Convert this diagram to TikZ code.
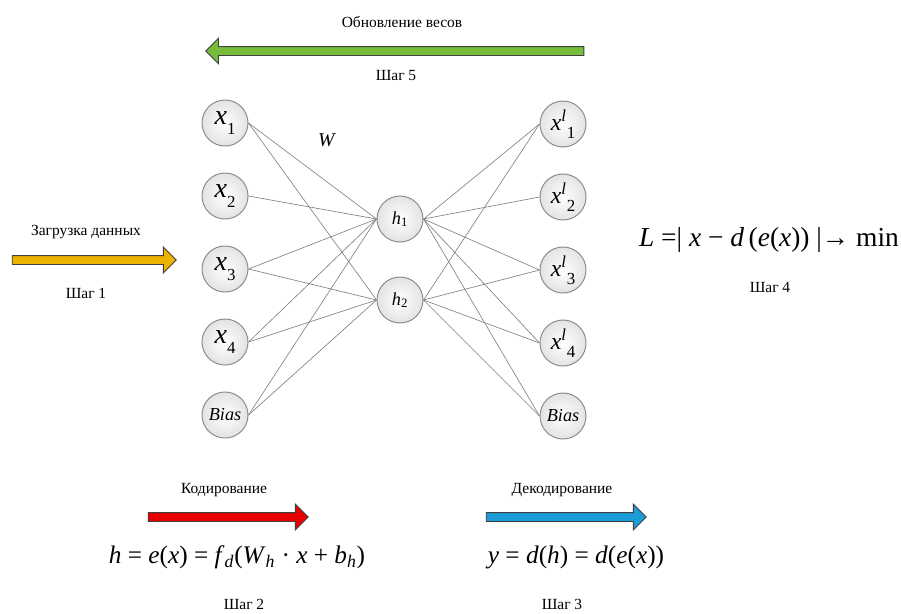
\documentclass[tikz,border=0pt]{standalone}
\usepackage{fontspec}
\setmainfont{Liberation Serif}
\usetikzlibrary{positioning,shapes.arrows}
\definecolor{wiregray}{HTML}{7F7F7F}
\definecolor{ringgray}{HTML}{8C8C8C}
\definecolor{stepgreen}{HTML}{78BC3C}
\definecolor{stepgold}{HTML}{EDB200}
\definecolor{stepred}{HTML}{E80000}
\definecolor{stepblue}{HTML}{1C9DD8}
\newcommand{\vi}[1]{\textit{#1}}
\newcommand{\lowsub}[1]{\raisebox{-0.75ex}{\fontsize{12}{12}\selectfont #1}}

\begin{document}
\begin{tikzpicture}[
  x=0.025cm, y=-0.025cm,
  neuron/.style={circle,draw=ringgray,line width=0.7pt,inner sep=0pt,
                 minimum size=1.15cm,shading=radial,
                 inner color=white,outer color=gray!22},
  wire/.style={draw=wiregray,line width=0.45pt},
  blockarrow/.style={single arrow,draw=black!75,line width=0.6pt,
                     inner xsep=0pt,inner ysep=0.1cm,
                     single arrow head extend=0.21cm,
                     single arrow tip angle=90},
  steptext/.style={font=\fontsize{11}{13}\selectfont},
  formula/.style={font=\fontsize{18}{22}\selectfont,inner sep=0pt}
]
  \useasboundingbox (0,0) rectangle (901,613);

  % input layer
  \node[neuron] (in1) at (225,123) {\fontsize{20}{22}\selectfont\vi{x}\lowsub{1}};
  \node[neuron, below=0.65cm of in1] (in2) {\fontsize{20}{22}\selectfont\vi{x}\lowsub{2}};
  \node[neuron, below=0.65cm of in2] (in3) {\fontsize{20}{22}\selectfont\vi{x}\lowsub{3}};
  \node[neuron, below=0.65cm of in3] (in4) {\fontsize{20}{22}\selectfont\vi{x}\lowsub{4}};
  \node[neuron, below=0.65cm of in4] (inb) {\fontsize{13}{15}\selectfont\vi{Bias}};

  % hidden layer
  \node[neuron] (hid1) at (400,219) {\fontsize{13}{15}\selectfont\vi{h}\textsubscript{1}};
  \node[neuron, below=0.85cm of hid1] (hid2) {\fontsize{13}{15}\selectfont\vi{h}\textsubscript{2}};

  % output layer
  \node[neuron] (out1) at (563,124) {\fontsize{17}{20}\selectfont\vi{x}\textsuperscript{\vi{l}}\lowsub{1}};
  \node[neuron, below=0.65cm of out1] (out2) {\fontsize{17}{20}\selectfont\vi{x}\textsuperscript{\vi{l}}\lowsub{2}};
  \node[neuron, below=0.65cm of out2] (out3) {\fontsize{17}{20}\selectfont\vi{x}\textsuperscript{\vi{l}}\lowsub{3}};
  \node[neuron, below=0.65cm of out3] (out4) {\fontsize{17}{20}\selectfont\vi{x}\textsuperscript{\vi{l}}\lowsub{4}};
  \node[neuron, below=0.65cm of out4] (outb) {\fontsize{13}{15}\selectfont\vi{Bias}};

  % weights
  \foreach \src in {in1,in3,in4,inb} {
    \draw[wire] (\src.east) -- (hid1.west);
    \draw[wire] (\src.east) -- (hid2.west);
  }
  \draw[wire] (in2.east) -- (hid1.west);
  \foreach \dst in {out1,out3,out4,outb} {
    \draw[wire] (hid1.east) -- (\dst.west);
    \draw[wire] (hid2.east) -- (\dst.west);
  }
  \draw[wire] (hid1.east) -- (out2.west);
  \node[font=\fontsize{14}{16}\selectfont] (wlabel) at (327,140) {\vi{W}};

  % step 5
  \node[steptext] (updlabel) at (402,22) {Обновление весов};
  \node[blockarrow, fill=stepgreen, shape border rotate=180,
        minimum height=9.45cm] (updarrow) at (397,51) {};
  \node[steptext] (step5) at (396,76) {Шаг 5};

  % step 1
  \node[steptext] (loadlabel) at (86,232) {Загрузка данных};
  \node[blockarrow, fill=stepgold, minimum height=4.1cm] (loadarrow) at (92,260) {};
  \node[steptext] (step1) at (86,293) {Шаг 1};

  % step 4
  \node[formula, font=\fontsize{19.5}{24}\selectfont] (loss) at (769,240)
    {\vi{L} =| \vi{x} − \vi{d}\,(\vi{e}(\vi{x})) |→ min};
  \node[steptext] (step4) at (770,287) {Шаг 4};

  % step 2
  \node[steptext] (enclabel) at (224,490) {Кодирование};
  \node[blockarrow, fill=stepred, minimum height=4.0cm] (encarrow) at (226,517) {};
  \node[formula] (encode) at (237,557)
    {\vi{h} = \vi{e}(\vi{x}) = \vi{f}\textsubscript{\vi{d}}(\vi{W}\textsubscript{\vi{h}} · \vi{x} + \vi{b}\textsubscript{\vi{h}})};
  \node[steptext] (step2) at (244,604) {Шаг 2};

  % step 3
  \node[steptext] (declabel) at (562,490) {Декодирование};
  \node[blockarrow, fill=stepblue, minimum height=4.0cm] (decarrow) at (564,517) {};
  \node[formula] (decode) at (576,557)
    {\vi{y} = \vi{d}(\vi{h}) = \vi{d}(\vi{e}(\vi{x}))};
  \node[steptext] (step3) at (562,604) {Шаг 3};
\end{tikzpicture}
\end{document}
